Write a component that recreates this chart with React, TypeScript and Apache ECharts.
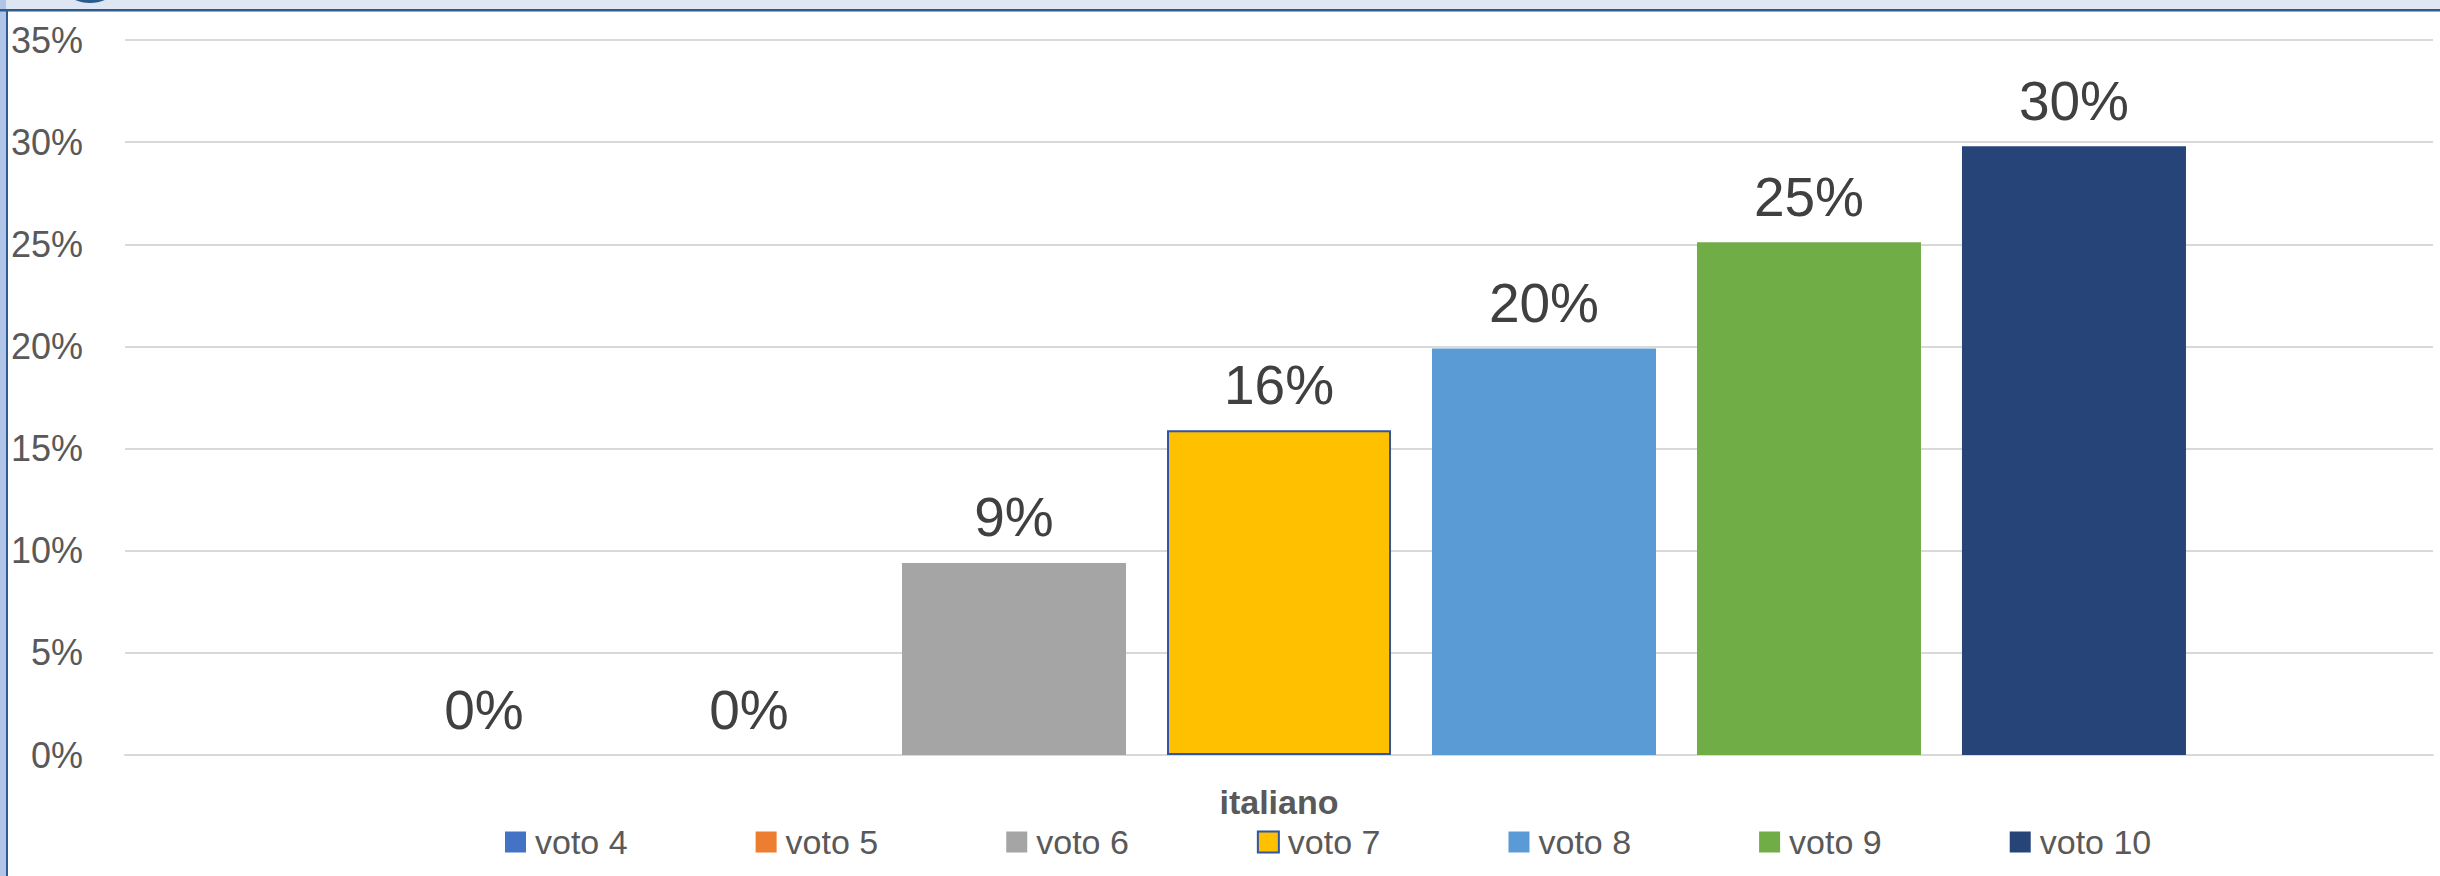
import React, { useEffect, useRef } from "react";
import * as echarts from "echarts";

const categories = ["italiano"];
const seriesNames = ["voto 4", "voto 5", "voto 6", "voto 7", "voto 8", "voto 9", "voto 10"];
const seriesValues = [0, 0, 9.4, 15.9, 19.9, 25.1, 29.8];
const seriesColors = ["#4472C4", "#ED7D31", "#A5A5A5", "#FFC000", "#5B9BD5", "#70AD47", "#264478"];
const yTicks = { min: 0, max: 35, interval: 5 };

export default function App() {
  const ref = useRef<HTMLDivElement>(null);

  useEffect(() => {
    if (!ref.current) return;
    const chart = echarts.init(ref.current, null, { renderer: "svg" });
    const font = "'Liberation Sans', Arial, sans-serif";

    const series = seriesNames.map((name, i) => ({
      name,
      type: "bar",
      data: [seriesValues[i]],
      barWidth: 224,
      barGap: "18.3%",
      itemStyle: {
        color: seriesColors[i],
        borderColor: name === "voto 7" ? "#2F55A4" : seriesColors[i],
        borderWidth: name === "voto 7" ? 2 : 0,
      },
      label: {
        show: true,
        position: "top",
        distance: 18,
        formatter: (p: any) => Math.round(p.value) + "%",
        color: "#404040",
        fontSize: 55,
        fontFamily: font,
      },
    }));

    chart.setOption({
      animation: false,
      backgroundColor: "#ffffff",
      textStyle: { fontFamily: font },
      graphic: [
        { type: "rect", shape: { x: 0, y: 0, width: 2440, height: 9 }, style: { fill: "#DDE6F2" }, silent: true },
        { type: "rect", shape: { x: 0, y: 0, width: 6, height: 876 }, style: { fill: "#B0C5E8" }, silent: true },
        { type: "ellipse", shape: { cx: 90, cy: -14, rx: 26, ry: 17 }, style: { fill: "#2B5A8C" }, silent: true },
        { type: "rect", shape: { x: 0, y: 9, width: 2440, height: 2.5 }, style: { fill: "#2F5B8E" }, silent: true },
        { type: "rect", shape: { x: 6, y: 9, width: 2, height: 867 }, style: { fill: "#2F5B8E" }, silent: true },
      ],
      grid: { left: 125, right: 7, top: 40, bottom: 121, containLabel: false },
      legend: {
        data: seriesNames,
        left: 500,
        top: 820,
        icon: "rect",
        itemWidth: 21,
        itemHeight: 21,
        itemGap: 128,
        textStyle: { fontSize: 34, color: "#595959", fontFamily: font, padding: [0, 0, 0, 4] },
      },
      xAxis: {
        type: "category",
        data: categories,
        axisLine: { show: true, lineStyle: { color: "#D9D9D9", width: 2 } },
        axisTick: { show: false },
        axisLabel: { fontSize: 34, fontWeight: "bold", color: "#595959", margin: 30, fontFamily: font },
      },
      yAxis: {
        type: "value",
        min: yTicks.min,
        max: yTicks.max,
        interval: yTicks.interval,
        axisLine: { show: false },
        axisTick: { show: false },
        axisLabel: { fontSize: 36, color: "#595959", margin: 42, formatter: "{value}%", fontFamily: font },
        splitLine: { lineStyle: { color: "#D9D9D9", width: 2 } },
      },
      series,
    });

    return () => chart.dispose();
  }, []);

  return (
    <div
      ref={ref}
      style={{ position: "absolute", left: 0, top: 0, width: 2440, height: 876 }}
    />
  );
}
